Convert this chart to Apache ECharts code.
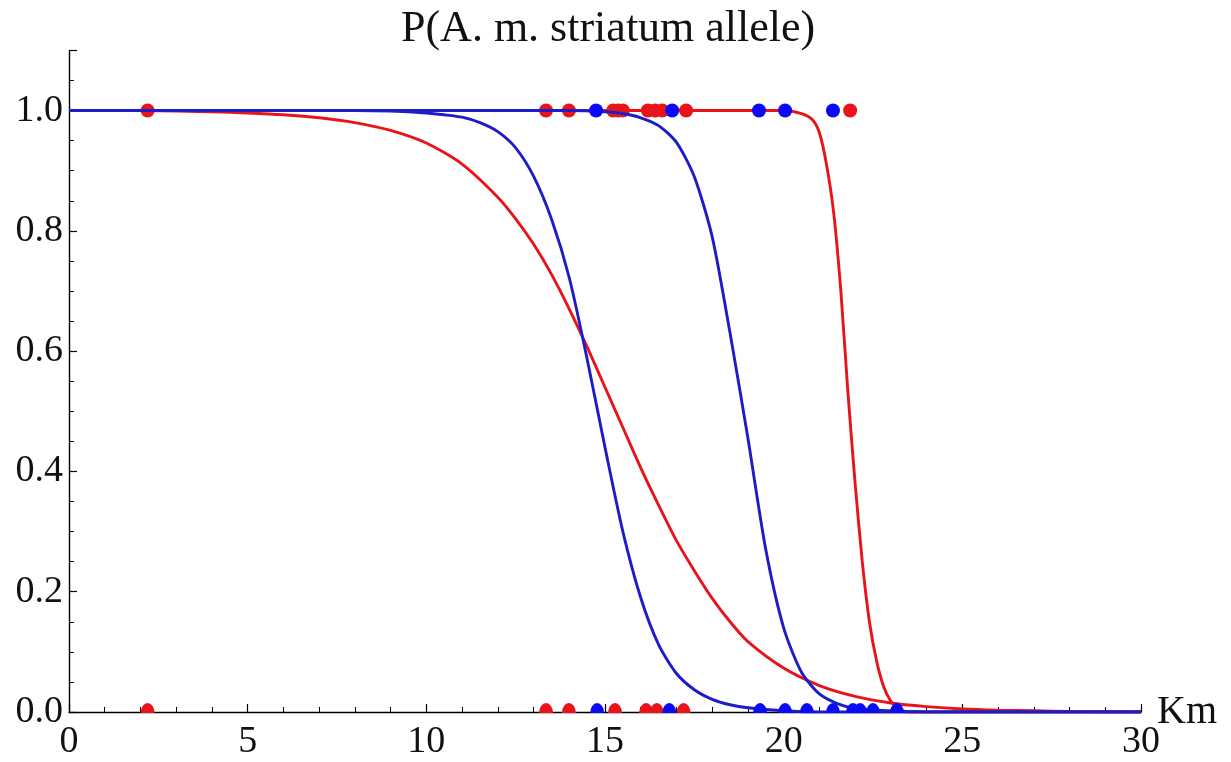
<!DOCTYPE html>
<html><head><meta charset="utf-8">
<script src="https://cdn.jsdelivr.net/npm/echarts@6/dist/echarts.min.js"></script>
<style>html,body{margin:0;padding:0;background:#fff}#c{width:1231px;height:762px}</style>
</head><body><div id="c"></div>
<script>
// ---- data ----
const titleText = 'P(A. m. striatum allele)';
const xName = 'Km';

const redBroadX = [0,2,4,5,6,7,8,9,10,11,12,12.5,13,13.5,14,14.5,15,15.5,16,16.5,17,17.5,18,18.5,19,20,21,22,23,24,25,26,27,28,30];
const redBroadY = [1,1,0.998,0.996,0.993,0.988,0.98,0.967,0.946,0.911,0.856,0.82,0.778,0.728,0.67,0.607,0.54,0.473,0.406,0.344,0.285,0.235,0.189,0.15,0.117,0.073,0.044,0.026,0.015,0.009,0.005,0.003,0.002,0.001,0];

const blueLeftX = [0,8,9,10,10.5,11,11.5,12,12.5,13,13.5,14,14.5,15,15.5,16,16.5,17,17.5,18,18.5,19,20,21,30];
const blueLeftY = [1,1,0.999,0.996,0.993,0.989,0.98,0.965,0.938,0.891,0.82,0.722,0.587,0.44,0.3,0.19,0.112,0.064,0.037,0.021,0.012,0.007,0.002,0,0];

const blueRightX = [0,14,15,15.5,16,16.5,17,17.5,18,18.5,19,19.5,20,20.5,21,21.5,22,23,24,30];
const blueRightY = [1,1,0.998,0.995,0.988,0.975,0.947,0.89,0.79,0.63,0.455,0.27,0.14,0.066,0.03,0.014,0.006,0.002,0,0];

const redSteepX = [0,20,20.5,20.8,21.0,21.2,21.4,21.6,21.8,22.0,22.2,22.4,22.6,22.8,23.0,23.2,23.5,30];
const redSteepY = [1,1,0.995,0.985,0.963,0.91,0.83,0.70,0.53,0.38,0.25,0.15,0.085,0.042,0.018,0.006,0,0];

const redTopX = [2.2,13.35,13.99,15.23,15.37,15.5,16.2,16.4,16.6,17.27,21.86];
const blueTopX = [14.75,16.88,19.31,20.04,21.38];
const redBottomX = [2.2,13.35,13.99,15.28,16.15,16.45,17.2];
const blueBottomX = [14.78,16.8,19.34,20.04,20.65,21.38,21.94,22.14,22.5,23.17];
const topValue = 1;
const bottomValue = 0;

// ---- chart ----
const FONT = 'Liberation Serif';
const RED = '#e8141a', BLUE = '#1c1cc8';
const pairs = (xs, ys) => xs.map((x, i) => [x, ys[i]]);
const flat = (xs, v) => xs.map(x => [x, v]);
const halfDot = 'path://M0,10 A10,10 0 0 1 20,10 Z';

const lineSeries = (name, xs, ys, color) => ({
  name, type: 'line', data: pairs(xs, ys), showSymbol: false, symbol: 'none',
  smooth: 0.25, z: 3,
  lineStyle: { color, width: 2.9 }, animation: false
});

const chart = echarts.init(document.getElementById('c'), null, { renderer: 'canvas' });
chart.setOption({
  backgroundColor: '#fff',
  animation: false,
  title: {
    text: titleText, left: 396, top: 2,
    textStyle: { fontFamily: FONT, fontSize: 44, fontWeight: 'normal', color: '#111' }
  },
  grid: { left: 69, right: 90, top: 50.4, bottom: 50, containLabel: false },
  xAxis: {
    type: 'value', min: 0, max: 30, interval: 5,
    name: xName, nameLocation: 'end', nameGap: 16, nameMoveOverlap: false,
    nameTextStyle: { fontFamily: FONT, fontSize: 40, color: '#111', verticalAlign: 'middle' },
    axisLine: { show: true, onZero: false, lineStyle: { color: '#000', width: 1.4 } },
    axisTick: { show: true, inside: true, length: 8, lineStyle: { color: '#000', width: 1.2 } },
    minorTick: { show: true, splitNumber: 5, length: 5, lineStyle: { color: '#000', width: 1 } },
    axisLabel: { fontFamily: FONT, fontSize: 38, color: '#111', margin: 11 },
    splitLine: { show: false }, minorSplitLine: { show: false }
  },
  yAxis: [{
    type: 'value', min: 0, max: 1.1, interval: 0.2,
    axisLine: { show: true, onZero: false, lineStyle: { color: '#000', width: 1.4 } },
    axisTick: { show: true, inside: true, length: 8, lineStyle: { color: '#000', width: 1.2 } },
    axisLabel: { fontFamily: FONT, fontSize: 38, color: '#111', margin: 6,
      formatter: v => (v > 1.05 ? '' : v.toFixed(1)) },
    splitLine: { show: false }
  }, {
    type: 'value', min: 0, max: 1.1, interval: 0.05, position: 'left', offset: 0,
    axisLine: { show: false },
    axisTick: { show: true, inside: true, length: 5, lineStyle: { color: '#000', width: 1 } },
    axisLabel: { show: false },
    splitLine: { show: false }
  }],
  series: [
    { type: 'scatter', data: flat(redTopX, topValue), symbolSize: 14, z: 2,
      itemStyle: { color: RED, opacity: 1 } },
    { type: 'scatter', data: flat(redBottomX, bottomValue), symbol: halfDot, symbolSize: [14, 10], symbolOffset: [0, -4], z: 2,
      itemStyle: { color: RED, opacity: 1 } },
    lineSeries('redBroad', redBroadX, redBroadY, RED),
    lineSeries('redSteep', redSteepX, redSteepY, RED),
    lineSeries('blueLeft', blueLeftX, blueLeftY, BLUE),
    lineSeries('blueRight', blueRightX, blueRightY, BLUE),
    { type: 'scatter', data: flat(blueTopX, topValue), symbolSize: 14, z: 4,
      itemStyle: { color: '#0a0af5', opacity: 1 } },
    { type: 'scatter', data: flat(blueBottomX, bottomValue), symbol: halfDot, symbolSize: [14, 10], symbolOffset: [0, -4], z: 4,
      itemStyle: { color: '#0a0af5', opacity: 1 } }
  ]
});
</script>
</body></html>
